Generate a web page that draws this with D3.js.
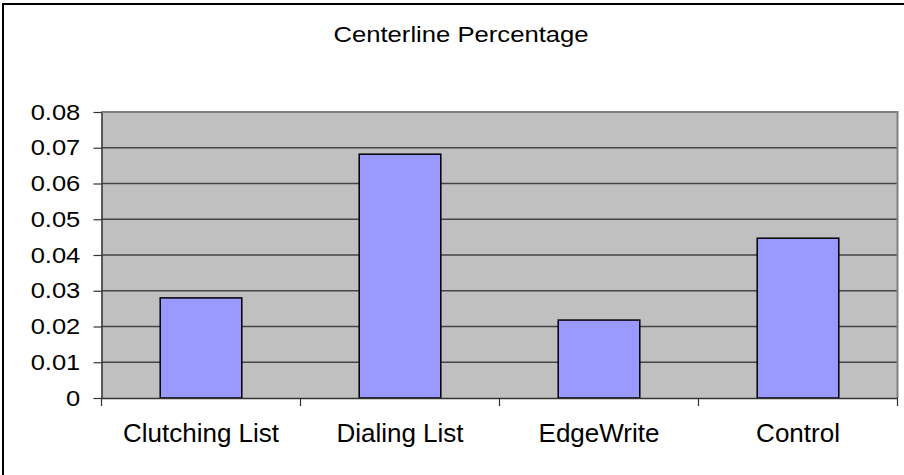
<!DOCTYPE html>
<html>
<head>
<meta charset="utf-8">
<script src="https://cdn.jsdelivr.net/npm/d3@7"></script>
<style>
  html, body { margin: 0; padding: 0; background: #fff; }
  svg { display: block; font-family: "Liberation Sans", Arial, sans-serif; }
</style>
</head>
<body>
<svg id="chart" width="904" height="475"></svg>
<script>
// Centerline percentage per technique
const categories = ["Clutching List", "Dialing List", "EdgeWrite", "Control"];
const values = [0.028, 0.0682, 0.0218, 0.0447];
const yTicks = [0, 0.01, 0.02, 0.03, 0.04, 0.05, 0.06, 0.07, 0.08];
const title = "Centerline Percentage";

const svg = d3.select("#chart");
const plot = { left: 101.5, right: 897.5, top: 112, bottom: 398 };

// outer frame of the chart
svg.append("rect")
  .attr("x", 3).attr("y", 4)
  .attr("width", 940).attr("height", 500)
  .attr("fill", "#fff").attr("stroke", "#000").attr("stroke-width", 2);

const xBand = d3.scaleBand().domain(categories).range([plot.left, plot.right]);
const y = d3.scaleLinear().domain([0, 0.08]).range([plot.bottom, plot.top]);

// plot area background
svg.append("rect")
  .attr("x", plot.left).attr("y", plot.top)
  .attr("width", plot.right - plot.left).attr("height", plot.bottom - plot.top)
  .attr("fill", "#c0c0c0");

// horizontal gridlines
svg.append("g")
  .selectAll("line")
  .data(yTicks.filter(d => d > 0))
  .join("line")
  .attr("x1", plot.left).attr("x2", plot.right)
  .attr("y1", d => y(d)).attr("y2", d => y(d))
  .attr("stroke", "#444").attr("stroke-width", 1.5);

// plot border, right side and top
svg.append("path")
  .attr("d", `M${plot.left},${plot.top}H${plot.right}V${plot.bottom}`)
  .attr("fill", "none").attr("stroke", "#808080").attr("stroke-width", 2);

// bars
svg.append("g")
  .selectAll("rect")
  .data(values)
  .join("rect")
  .attr("x", (d, i) => xBand(categories[i]) + xBand.bandwidth() * 0.295)
  .attr("width", xBand.bandwidth() * 0.41)
  .attr("y", d => y(d))
  .attr("height", d => y(0) - y(d))
  .attr("fill", "#9999ff")
  .attr("stroke", "#000")
  .attr("stroke-width", 1.5);

// y axis
const yAxis = svg.append("g")
  .attr("transform", `translate(${plot.left},0)`)
  .call(d3.axisLeft(y).tickValues(yTicks).tickFormat(d => d === 0 ? "0" : d3.format(".2f")(d))
    .tickSizeInner(8).tickSizeOuter(0).tickPadding(12));
yAxis.select(".domain").attr("stroke", "#333").attr("stroke-width", 1.5);
yAxis.selectAll(".tick line").attr("stroke", "#333").attr("stroke-width", 1.2);
yAxis.selectAll(".tick text")
  .attr("fill", "#000")
  .attr("font-size", 22)
  .attr("font-family", "Liberation Sans, Arial, sans-serif")
  .attr("transform", "scale(1.16,1)")
  .attr("x", -21.2 / 1.16);

// x axis: ticks at category boundaries
const xAxis = svg.append("g")
  .attr("transform", `translate(0,${plot.bottom})`)
  .call(d3.axisBottom(xBand).tickSize(0).tickPadding(0));
xAxis.select(".domain").attr("stroke", "#333").attr("stroke-width", 1.5);
xAxis.selectAll(".tick line").remove();
xAxis.selectAll(".tick text")
  .attr("fill", "#000")
  .attr("font-size", 25)
  .attr("font-family", "Liberation Sans, Arial, sans-serif")
  .attr("transform", "scale(1.04,1)")
  .attr("dy", null)
  .attr("y", 44);

const bounds = categories.map(c => xBand(c)).concat([plot.right]);
svg.append("g")
  .selectAll("line")
  .data(bounds)
  .join("line")
  .attr("x1", d => d).attr("x2", d => d)
  .attr("y1", plot.bottom).attr("y2", plot.bottom + 8)
  .attr("stroke", "#333").attr("stroke-width", 1.2);

// title
svg.append("text")
  .attr("transform", "translate(461,41.5) scale(1.14,1)")
  .attr("text-anchor", "middle")
  .attr("font-size", 22.5)
  .attr("fill", "#000")
  .text(title);
</script>
</body>
</html>
